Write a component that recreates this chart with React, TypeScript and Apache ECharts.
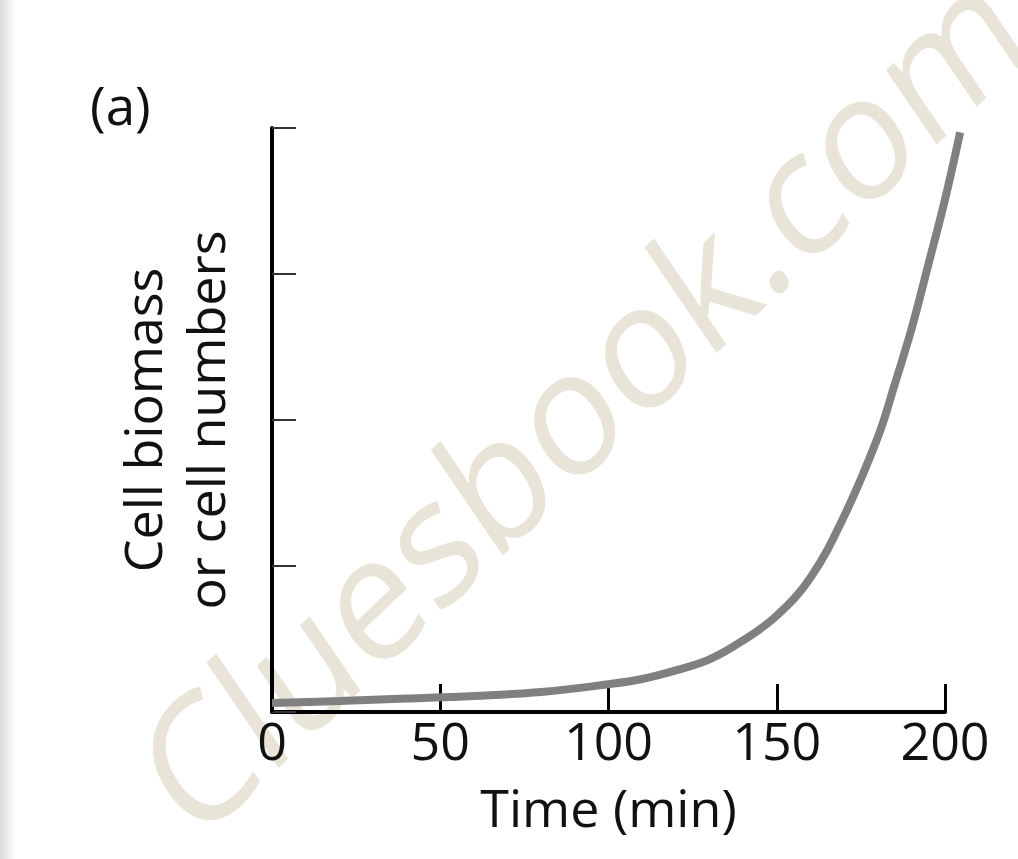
import React, { useEffect, useRef } from "react";
import * as echarts from "echarts";

const timeTicks = [0, 50, 100, 150, 200];
const curveTime = [0, 20, 40, 60, 80, 100, 110, 120, 130, 140, 150, 160, 170, 180, 185, 190, 195, 200, 204.5];
const curveValue = [0.062, 0.075, 0.092, 0.11, 0.137, 0.19, 0.226, 0.285, 0.36, 0.49, 0.66, 0.92, 1.34, 1.88, 2.24, 2.62, 3.06, 3.51, 3.97];
const xAxisTitle = "Time (min)";
const yAxisTitle = "Cell biomass\nor cell numbers";
const panelLabel = "(a)";
const watermark = "Cluesbook.com";

export default function App() {
  const ref = useRef<HTMLDivElement>(null);
  useEffect(() => {
    if (!ref.current) return;
    const chart = echarts.init(ref.current, undefined, { renderer: "svg" });
    const font = "'Open Sans', sans-serif";
    const tMax = timeTicks[timeTicks.length - 1];
    const tEnd = curveTime[curveTime.length - 1];
    // Grid 1 shares the scale of grid 0 but reaches to the end of the curve
    const pxPerMin = (1018 - 73 - 272) / tMax;
    const rightCurve = 1018 - 272 - pxPerMin * tEnd;
    const squeeze = 0.85;
    chart.setOption({
      animation: false,
      backgroundColor: "#ffffff",
      grid: [
        { left: 272, right: 73, top: 128, bottom: 147, containLabel: false },
        { left: 272, right: rightCurve, top: 128, bottom: 147, containLabel: false },
      ],
      xAxis: [
        {
          type: "value",
          gridIndex: 0,
          min: timeTicks[0],
          max: tMax,
          interval: 50,
          name: xAxisTitle,
          nameLocation: "middle",
          nameGap: 72,
          nameTextStyle: { fontFamily: font, fontSize: 52, color: "#111", lineHeight: 44 },
          axisLine: { show: true, onZero: false, lineStyle: { color: "#000", width: 4 } },
          axisTick: { show: true, inside: true, length: 28, lineStyle: { color: "#000", width: 3 } },
          axisLabel: { fontFamily: font, fontSize: 52, color: "#111", margin: 7, lineHeight: 40 },
          splitLine: { show: false },
        },
        {
          type: "value",
          gridIndex: 1,
          min: 0,
          max: tEnd,
          show: false,
          splitLine: { show: false },
        },
      ],
      yAxis: [
        {
          type: "value",
          gridIndex: 0,
          min: 0,
          max: 4,
          interval: 1,
          name: yAxisTitle,
          nameLocation: "middle",
          nameGap: 36,
          nameTextStyle: { fontFamily: font, fontSize: 52, color: "#111", lineHeight: 63 },
          axisLine: { show: true, lineStyle: { color: "#000", width: 4 } },
          axisTick: { show: true, inside: true, length: 24, lineStyle: { color: "#333", width: 2 } },
          axisLabel: { show: false },
          splitLine: { show: false },
        },
        {
          type: "value",
          gridIndex: 1,
          min: 0,
          max: 4,
          show: false,
          splitLine: { show: false },
        },
      ],
      graphic: {
        elements: [
          {
            type: "rect",
            z: -20,
            shape: { x: 0, y: 0, width: 16, height: 859 },
            style: {
              fill: new echarts.graphic.LinearGradient(0, 0, 1, 0, [
                { offset: 0, color: "#dcdcdc" },
                { offset: 1, color: "#ffffff" },
              ]),
            },
          },
          {
            type: "group",
            z: -10,
            x: 0,
            y: 0,
            scaleX: squeeze,
            children: [
              {
                type: "text",
                z: -10,
                x: 680,
                y: 395,
                rotation: (38.8 * Math.PI) / 180,
                style: {
                  text: watermark,
                  fontFamily: font,
                  fontSize: 178,
                  fill: "#e8e4d8",
                  align: "center",
                  verticalAlign: "middle",
                },
              },
            ],
          },
          {
            type: "text",
            x: 90,
            y: 104,
            style: {
              text: panelLabel,
              fontFamily: font,
              fontSize: 53,
              fill: "#111",
              align: "left",
              verticalAlign: "middle",
            },
          },
        ],
      },
      series: [
        {
          type: "line",
          xAxisIndex: 1,
          yAxisIndex: 1,
          data: curveTime.map((t, i) => [t, curveValue[i]]),
          smooth: 0.4,
          showSymbol: false,
          z: 3,
          lineStyle: { color: "#808080", width: 8 },
        },
      ],
    });
    return () => chart.dispose();
  }, []);
  return (
    <div
      ref={ref}
      style={{ position: "fixed", left: 0, top: 0, width: 1018, height: 859 }}
    />
  );
}
